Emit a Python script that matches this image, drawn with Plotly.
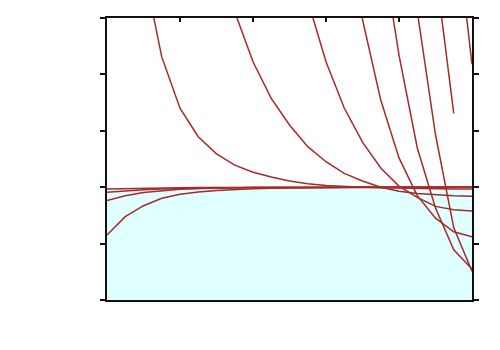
import plotly.graph_objects as go

# sample positions along x
x_vals = [0, 0.25, 0.5, 0.75, 1.0, 1.25, 1.5, 1.75, 2.0, 2.25, 2.5,
          2.75, 3.0, 3.25, 3.5, 3.75, 4.0, 4.25, 4.5, 4.75, 5.0]

N = None
# curves descending from the top
curve_a = [N, N, 3.9, 2.31, 1.40, 0.895, 0.59, 0.39, 0.264, 0.18, 0.11,
           0.06, 0.03, 0.012, 0.0, -0.01, -0.018, -0.023, -0.027, -0.03, -0.032]
curve_b = [N, N, N, N, N, N, N, 3.11, 2.225, 1.576, 1.103,
           0.718, 0.452, 0.246, 0.11, 0.0, -0.07, -0.11, -0.135, -0.15, -0.16]
curve_c = [N, N, N, N, N, N, N, N, N, N, N,
           3.31, 2.225, 1.404, 0.80, 0.34, 0.02, -0.18, -0.34, -0.40, -0.42]
curve_d = [N, N, N, N, N, N, N, N, N, N, N,
           N, N, 4.4, 2.97, 1.546, 0.52, -0.15, -0.55, -0.79, -0.88]
curve_e = [N, N, N, N, N, N, N, N, N, N, N,
           N, N, N, N, 4.4, 2.34, 0.70, -0.37, -1.11, -1.45]
curve_f = [N, N, N, N, N, N, N, N, N, N, N,
           N, N, N, N, N, 5.0, 3.12, 0.93, -0.72, -1.49]
curve_g = [N, N, N, N, N, N, N, N, N, N, N,
           N, N, N, N, N, N, N, 3.87, 1.31, N]
curve_h = [N, N, N, N, N, N, N, N, N, N, N,
           N, N, N, N, N, N, N, N, 5.0, 2.18]
# curves rising from below
curve_l1 = [-0.848, -0.523, -0.328, -0.197, -0.126, -0.085, -0.058, -0.04, -0.028, -0.02, -0.014,
            -0.01, -0.007, -0.005, -0.003, -0.002, -0.001, 0.0, 0.0, 0.0, 0.0]
curve_l2 = [-0.236, -0.15, -0.095, -0.06, -0.038, -0.024, -0.015, -0.01, -0.006, -0.004, -0.003,
            -0.002, -0.001, 0.0, 0.0, 0.0, 0.0, 0.0, 0.0, 0.0, 0.0]
curve_l3 = [-0.09, -0.065, -0.047, -0.034, -0.025, -0.018, -0.013, -0.009, -0.006, -0.004, -0.003,
            -0.002, -0.001, 0.0, 0.0, 0.0, 0.0, 0.0, 0.0, 0.0, 0.0]
curve_l4 = [-0.03, -0.022, -0.016, -0.012, -0.009, -0.006, -0.004, -0.003, -0.002, -0.001, 0.0,
            0.0, 0.0, 0.0, 0.0, 0.0, 0.0, 0.0, 0.0, 0.0, 0.0]

curves = [curve_a, curve_b, curve_c, curve_d, curve_e, curve_f, curve_g, curve_h,
          curve_l1, curve_l2, curve_l3, curve_l4]

x_range = [0, 5]
y_range = [-2, 3]
shade_top = 0

fig = go.Figure()
for c in curves:
    fig.add_trace(go.Scatter(x=x_vals, y=c, mode="lines", connectgaps=False,
                             line=dict(color="#a52a2a", width=1.5),
                             showlegend=False, hoverinfo="skip"))

fig.add_shape(type="rect", xref="x domain", yref="y", x0=0, x1=1,
              y0=y_range[0], y1=shade_top, fillcolor="#e0ffff",
              line=dict(width=0), layer="below")

fig.update_layout(
    width=500, height=350,
    margin=dict(l=99, r=36, t=10, b=58),
    paper_bgcolor="white", plot_bgcolor="white",
    showlegend=False,
)
fig.update_xaxes(range=x_range, side="top", dtick=1, ticks="inside", ticklen=4,
                 tickwidth=1.5, tickcolor="#111", showticklabels=False,
                 showgrid=False, zeroline=False, showline=True, linecolor="#111",
                 linewidth=1.5, mirror=True)
fig.update_yaxes(range=y_range, dtick=1, ticks="outside", ticklen=5,
                 tickwidth=1.5, tickcolor="#111", showticklabels=False,
                 showgrid=False, zeroline=False, showline=True, linecolor="#111",
                 linewidth=1.5, mirror="ticks")

fig.write_html("out.html")
